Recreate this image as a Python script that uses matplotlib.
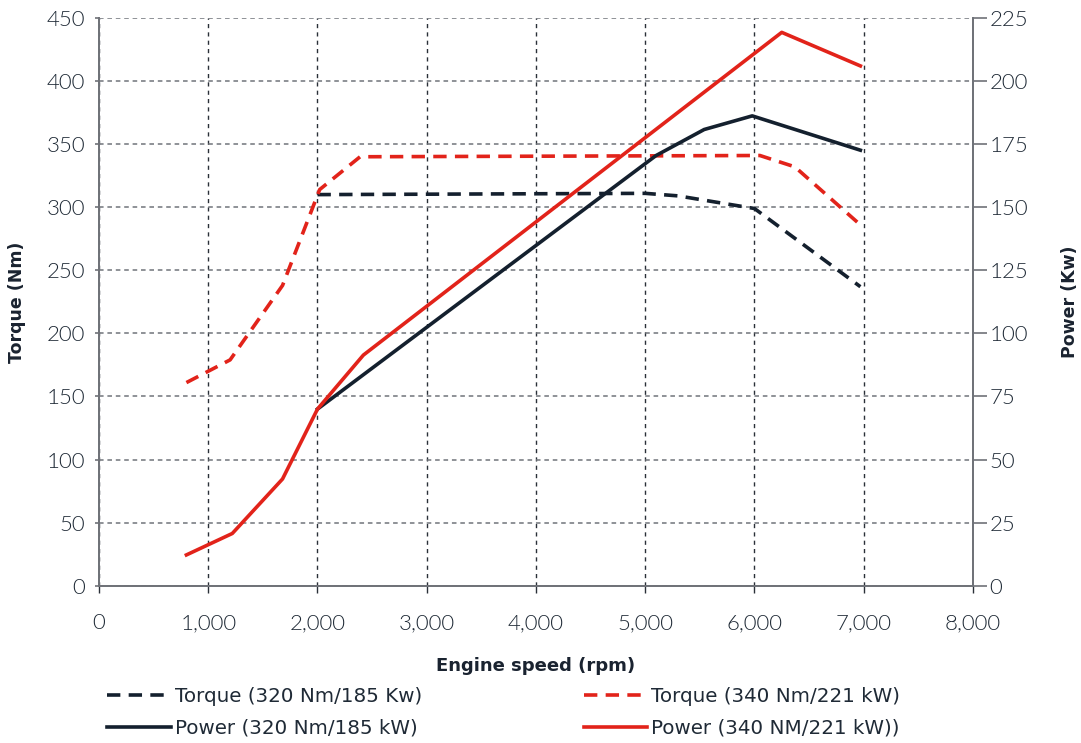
import matplotlib.pyplot as plt

# dane
rpm_t320 = [2000, 5000, 5300, 6000, 6970]
torque_320 = [310, 311, 309, 299, 237]

rpm_t340 = [800, 1200, 1680, 2020, 2390, 6050, 6370, 6970]
torque_340 = [161, 179, 238, 314, 340, 341, 332, 286]

rpm_p320 = [2000, 5100, 5540, 5980, 6970]
power_320 = [70, 170.5, 180.8, 186.2, 172.6]

rpm_p340 = [800, 1220, 1680, 2000, 2420, 6250, 6970]
power_340 = [12.2, 20.7, 42.3, 70, 91.4, 219.3, 206]

x_ticks = [0, 1000, 2000, 3000, 4000, 5000, 6000, 7000, 8000]

RED = '#e2231a'
NAVY = '#14202e'
SPINE = '#6f7278'
TXT = '#1f2a36'

plt.rcParams['font.family'] = ['DejaVu Sans']

fig = plt.figure(figsize=(10.81, 7.43), dpi=100)
ax = fig.add_axes([0.0916, 0.2117, 0.8084, 0.7641])
ax2 = ax.twinx()

l1, = ax.plot(rpm_t320, torque_320, color=NAVY, lw=2.6, dashes=(3.7, 2.3),
              label='Torque (320 Nm/185 Kw)')
l3, = ax.plot(rpm_t340, torque_340, color=RED, lw=2.6, dashes=(3.7, 2.3),
              label='Torque (340 Nm/221 kW)')
l2, = ax2.plot(rpm_p320, power_320, color=NAVY, lw=2.6,
               label='Power (320 Nm/185 kW)')
l4, = ax2.plot(rpm_p340, power_340, color=RED, lw=2.6,
               label='Power (340 NM/221 kW))')

ax.set_xlim(0, 8000)
ax.set_ylim(0, 450)
ax2.set_ylim(0, 225)
ax.set_xticks(x_ticks)
ax.set_xticklabels([f'{v:,}' for v in x_ticks])
ax.set_yticks(range(0, 451, 50))
ax2.set_yticks(range(0, 226, 25))

# siatka
ax.grid(axis='y', color='#70747a', lw=1.1, ls=(0, (3, 2.5)))
ax.grid(axis='x', color='#2a3038', lw=1.0, ls=(0, (3, 3)))
ax.set_axisbelow(True)

for a in (ax, ax2):
    a.spines['top'].set_visible(False)
    for s in ('left', 'right', 'bottom'):
        a.spines[s].set_color(SPINE)
        a.spines[s].set_linewidth(1.3)
ax.tick_params(axis='y', length=3, width=1.2, color=SPINE, labelsize=16, labelcolor=TXT, pad=7)
ax2.tick_params(axis='y', length=10, width=1.2, color=SPINE, labelsize=16, labelcolor=TXT, pad=2)
ax.tick_params(axis='x', length=5, width=1.0, color='#2a3038', labelsize=16, labelcolor=TXT, pad=15)
for lab in ax.get_xticklabels() + ax.get_yticklabels() + ax2.get_yticklabels():
    lab.set_fontfamily(['Lato', 'DejaVu Sans'])
    lab.set_fontweight(300)

ax.set_ylabel('Torque (Nm)', fontsize=12.5, fontweight='bold', color='#1a2330')
ax2.set_ylabel('Power (Kw)', fontsize=12.5, fontweight='bold', color='#1a2330')
ax.set_xlabel('Engine speed (rpm)', fontsize=13, fontweight='bold', color='#1a2330')
ax.yaxis.set_label_coords(-0.0835, 0.5)
ax2.yaxis.set_label_coords(1.1007, 0.5)
ax.xaxis.set_label_coords(0.499, -0.1256)

leg_kw = dict(frameon=False, fontsize=14.3, handlelength=3.2, handletextpad=0.2,
              labelspacing=0.62, loc='center left', labelcolor=TXT)
fig.legend(handles=[l1, l2], bbox_to_anchor=(0.0828, 0.041), **leg_kw)
fig.legend(handles=[l3, l4], bbox_to_anchor=(0.5236, 0.041), **leg_kw)

fig.savefig('out.png', dpi=100)
